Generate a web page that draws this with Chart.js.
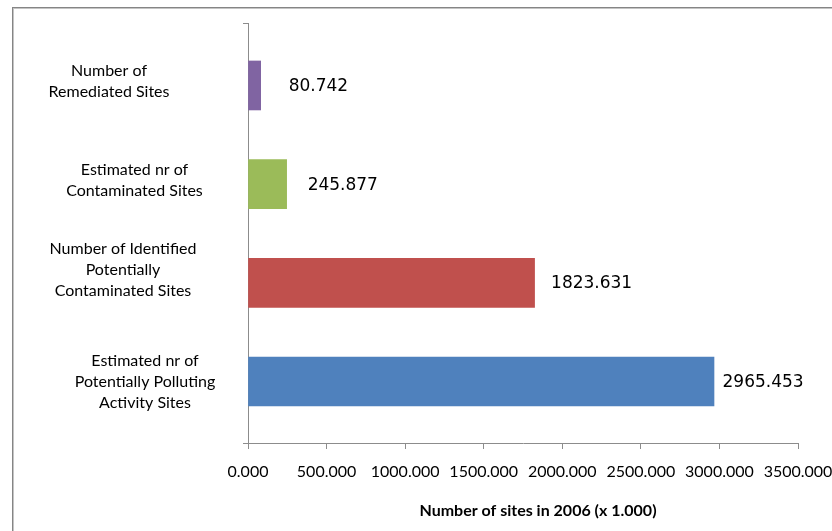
<!DOCTYPE html>
<html>
<head>
<meta charset="utf-8">
<title>Contaminated sites 2006</title>
<script src="https://cdn.jsdelivr.net/npm/chart.js@4.4.0/dist/chart.umd.min.js"></script>
<style>
  body { margin: 0; background: #fff; }
  #wrap { position: relative; width: 832px; height: 531px; overflow: hidden; }
  #frame {
    position: absolute; left: 12px; top: 7px; width: 900px; height: 600px;
    border-left: 1px solid #858585; border-top: 1px solid #858585;
    box-shadow: inset 1px 1px 0 #c4c4c4;
  }
  #chart { position: absolute; left: 0; top: 0; }
</style>
</head>
<body>
<div id="wrap">
  <div id="frame"></div>
  <canvas id="chart" width="832" height="531"></canvas>
</div>
<script>
// categories, top to bottom
const categories = [
  ["Number of", "Remediated Sites"],
  ["Estimated nr of", "Contaminated Sites"],
  ["Number of Identified", "Potentially", "Contaminated Sites"],
  ["Estimated nr of", "Potentially Polluting", "Activity Sites"]
];
// number of sites in 2006 (x 1.000)
const siteCounts = [80.742, 245.877, 1823.631, 2965.453];
const barColors = ["#8064A2", "#9BBB59", "#C0504D", "#4F81BD"];
const xMin = 0;
const xMax = 3500;
const xStep = 500;
const axisTitle = "Number of sites in 2006 (x 1.000)";

const axisColor = "#8c8c8c";
const labelFont = "Lato";

// where each wrapped category label sits: centre x, shift from bar centre
const catLabelPos = [
  { x: 109, dy: -4.5 },
  { x: 134.5, dy: -4 },
  { x: 123, dy: -12.5 },
  { x: 145, dy: 0.5 }
];
// space between bar end and its value
const valueGap = [28, 21, 16.5, 8.5];

const textPlugin = {
  id: "siteText",
  afterDatasetsDraw(chart) {
    const ctx = chart.ctx;
    const yScale = chart.scales.y;
    const xScale = chart.scales.x;
    ctx.save();
    ctx.fillStyle = "#000";
    ctx.textBaseline = "middle";

    // value labels right of each bar
    ctx.font = "17px 'DejaVu Sans'";
    ctx.textAlign = "left";
    chart.getDatasetMeta(0).data.forEach((bar, i) => {
      ctx.fillText(siteCounts[i].toFixed(3), bar.x + valueGap[i], bar.y + 1);
    });

    // category labels
    ctx.font = "16px " + labelFont;
    ctx.textAlign = "center";
    categories.forEach((lines, i) => {
      const cy = yScale.getPixelForValue(i) + catLabelPos[i].dy;
      const lh = 21;
      const y0 = cy - (lines.length - 1) * lh / 2;
      lines.forEach((line, k) => ctx.fillText(line, catLabelPos[i].x, y0 + k * lh));
    });

    // axis title
    ctx.font = "bold 16px " + labelFont;
    ctx.fillText(axisTitle, (xScale.left + xScale.right) / 2 + 15, 511);
    ctx.restore();
  }
};

new Chart(document.getElementById("chart"), {
  type: "bar",
  data: {
    datasets: [{
      data: siteCounts.map((v, i) => ({ x: v, y: i })),
      backgroundColor: barColors,
      borderWidth: 0,
      barThickness: 49
    }]
  },
  options: {
    indexAxis: "y",
    responsive: false,
    animation: false,
    layout: { padding: { left: 0, top: 23, right: 34, bottom: 0 } },
    plugins: { legend: { display: false }, tooltip: { enabled: false } },
    scales: {
      x: {
        type: "linear",
        min: xMin,
        max: xMax,
        ticks: {
          stepSize: xStep,
          color: "#000",
          font: { family: labelFont, size: 16 },
          padding: 13,
          maxRotation: 0,
          callback: (v) => v.toFixed(3)
        },
        grid: { drawOnChartArea: false, tickLength: 6, color: axisColor },
        border: { color: axisColor },
        afterFit: (scale) => {
          scale.height = 88;
          scale.paddingLeft = 0;
          scale.paddingRight = 0;
        }
      },
      y: {
        type: "linear",
        reverse: true,
        offset: false,
        min: -0.633,
        max: 3.623,
        ticks: { display: false },
        afterBuildTicks: (scale) => {
          scale.ticks = [{ value: scale.min }, { value: scale.max }];
        },
        grid: { offset: false, drawOnChartArea: false, tickLength: 5, color: axisColor },
        border: { color: axisColor },
        afterFit: (scale) => { scale.width = 248; }
      }
    }
  },
  plugins: [textPlugin]
});
</script>
</body>
</html>
